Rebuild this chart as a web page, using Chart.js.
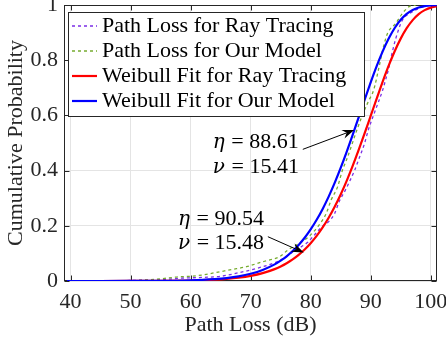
<!DOCTYPE html>
<html>
<head>
<meta charset="utf-8">
<script src="https://cdn.jsdelivr.net/npm/chart.js@4/dist/chart.umd.min.js"></script>
<style>
  html, body { margin: 0; padding: 0; background: #ffffff; }
  #cdf { display: block; }
</style>
</head>
<body>
<canvas id="cdf" width="446" height="345"></canvas>
<script>
// Fitted Weibull parameters (scale eta, shape nu)
const ourModelEta = 88.61, ourModelNu = 15.41;
const rayTracingEta = 90.54, rayTracingNu = 15.48;

// Empirical CDF of path loss from ray tracing
const rayTracingLossDb = [39.4, 48, 52, 56, 58, 62, 65, 68, 70, 72, 74, 75.9, 77, 78.5, 79.5, 80.4, 81.9, 83.0, 84.0, 84.8, 85.8, 86.6, 87.3, 88.0, 89.0, 89.6, 90.8, 92.0, 92.5, 93.0, 93.5, 94.2, 95.3, 96.4, 97.5, 98.5, 99.7, 101];
const rayTracingCdf    = [0, 0.001, 0.003, 0.006, 0.010, 0.013, 0.017, 0.030, 0.040, 0.052, 0.066, 0.088, 0.105, 0.125, 0.140, 0.161, 0.197, 0.215, 0.245, 0.290, 0.330, 0.366, 0.400, 0.440, 0.500, 0.547, 0.620, 0.692, 0.730, 0.770, 0.820, 0.880, 0.946, 0.968, 0.982, 0.992, 0.998, 1.0];

// Empirical CDF of path loss from our model
const ourModelLossDb = [39.4, 50, 52, 55, 58, 60, 62, 65, 67, 69.3, 72, 74.8, 76.2, 78.1, 79.7, 81.2, 82.6, 83.4, 84.5, 85.3, 86.0, 87.7, 88.6, 89.6, 90.5, 91.4, 92.0, 92.8, 94.2, 95.3, 96.4, 97.5];
const ourModelCdf    = [0, 0.001, 0.003, 0.008, 0.015, 0.017, 0.022, 0.034, 0.042, 0.052, 0.070, 0.088, 0.112, 0.137, 0.161, 0.197, 0.245, 0.293, 0.342, 0.402, 0.440, 0.547, 0.600, 0.650, 0.692, 0.776, 0.837, 0.897, 0.934, 0.970, 0.994, 1.0];

// Weibull fit CDFs on a common path-loss grid
const fitLossDb = [39.4, 45, 50, 55, 60, 62, 64, 66, 68, 70, 72, 74, 75, 76, 77, 78, 79, 80, 81, 82, 83, 84, 85, 86, 87, 88, 89, 90, 91, 92, 93, 94, 95, 96, 97, 98, 99, 100, 101];
const rayTracingFitCdf = [0, 0.00002, 0.0001, 0.00045, 0.00171, 0.00284, 0.00464, 0.00746, 0.01183, 0.01846, 0.0284, 0.0431, 0.0528, 0.0644, 0.0782, 0.0947, 0.1141, 0.1369, 0.1634, 0.1941, 0.2292, 0.2690, 0.3136, 0.3630, 0.4169, 0.4747, 0.5355, 0.5981, 0.6610, 0.7222, 0.7801, 0.8325, 0.8782, 0.9159, 0.9453, 0.9668, 0.9814, 0.9905, 0.9956];
const ourModelFitCdf   = [0, 0.00003, 0.00015, 0.00064, 0.00246, 0.00406, 0.00662, 0.01062, 0.01677, 0.0261, 0.0400, 0.0603, 0.0737, 0.0896, 0.1085, 0.1307, 0.1568, 0.1870, 0.2217, 0.2613, 0.3058, 0.3553, 0.4095, 0.4678, 0.5295, 0.5930, 0.6570, 0.7195, 0.7784, 0.8319, 0.8784, 0.9166, 0.9463, 0.9678, 0.9822, 0.9911, 0.9960, 0.9984, 0.9995];

// Axis ticks
const xTicks = [40, 50, 60, 70, 80, 90, 100];
const xTickLabels = ['40', '50', '60', '70', '80', '90', '100'];
const yTicks = [0, 0.2, 0.4, 0.6, 0.8, 1];
const yTickLabels = ['0', '0.2', '0.4', '0.6', '0.8', '1'];

const seriesNames = [
  'Path Loss for Ray Tracing',
  'Path Loss for Our Model',
  'Weibull Fit for Ray Tracing',
  'Weibull Fit for Our Model'
];

const FONT = '"Liberation Serif", "Times New Roman", serif';
const GREEK_FONT = 'italic 20px "DejaVu Serif", serif';
const FONT_SIZE = 22;
const INK = '#262626';

function toPoints(xs, ys) {
  return xs.map((x, i) => ({ x: x, y: ys[i] }));
}

// Fixed axis bands: no extra room reserved for overhanging tick labels
function fixBand(size) {
  return function (s) {
    if (s.isHorizontal()) s.height = size; else s.width = size;
    s.paddingLeft = 0; s.paddingRight = 0; s.paddingTop = 0; s.paddingBottom = 0;
  };
}

// Full axes box with inward tick marks on all four sides
const axesBox = {
  id: 'axesBox',
  beforeDatasetsDraw(chart) {
    const { ctx, chartArea: a, scales: { x, y } } = chart;
    const L = Math.round(a.left) + 0.5, R = Math.round(a.right) - 0.5;
    const T = Math.round(a.top) + 0.5, B = Math.round(a.bottom) - 0.5;
    const tick = 5;
    ctx.save();
    ctx.strokeStyle = INK;
    ctx.lineWidth = 1;
    ctx.beginPath();
    xTicks.forEach(v => {
      const px = Math.round(x.getPixelForValue(v)) + 0.5;
      ctx.moveTo(px, B); ctx.lineTo(px, B - tick);
      ctx.moveTo(px, T); ctx.lineTo(px, T + tick);
    });
    yTicks.forEach(v => {
      const py = Math.round(y.getPixelForValue(v)) + 0.5;
      ctx.moveTo(L, py); ctx.lineTo(L + tick, py);
      ctx.moveTo(R, py); ctx.lineTo(R - tick, py);
    });
    ctx.stroke();
    ctx.strokeRect(L, T, R - L, B - T);
    ctx.restore();
  }
};

function drawArrow(ctx, x0, y0, x1, y1) {
  const ang = Math.atan2(y1 - y0, x1 - x0);
  const len = 12, half = 4.5, back = 8;
  ctx.save();
  ctx.strokeStyle = '#000';
  ctx.fillStyle = '#000';
  ctx.lineWidth = 1;
  ctx.beginPath();
  ctx.moveTo(x0, y0);
  ctx.lineTo(x1 - Math.cos(ang) * back, y1 - Math.sin(ang) * back);
  ctx.stroke();
  ctx.translate(x1, y1);
  ctx.rotate(ang);
  ctx.beginPath();
  ctx.moveTo(0, 0);
  ctx.lineTo(-len, -half);
  ctx.lineTo(-back, 0);
  ctx.lineTo(-len, half);
  ctx.closePath();
  ctx.fill();
  ctx.restore();
}

function drawMathLine(ctx, x, y, sym, value) {
  ctx.font = GREEK_FONT;
  ctx.fillText(sym, x, y);
  const w = ctx.measureText(sym).width;
  ctx.font = FONT_SIZE + 'px ' + FONT;
  ctx.fillText(' = ' + value, x + w + 1, y);
}

// Parameter call-outs pointing at each fitted curve
const fitNotes = {
  id: 'fitNotes',
  afterDatasetsDraw(chart, args, opts) {
    const { ctx, scales: { x, y } } = chart;
    ctx.save();
    ctx.fillStyle = '#000';
    ctx.textBaseline = 'alphabetic';
    ctx.textAlign = 'left';
    opts.notes.forEach(n => {
      const tx = x.getPixelForValue(n.text[0]);
      drawMathLine(ctx, tx, y.getPixelForValue(n.text[1]), '\u03B7', n.eta.toFixed(2));
      drawMathLine(ctx, tx, y.getPixelForValue(n.text[2]), '\u03BD', n.nu.toFixed(2));
      drawArrow(ctx,
        x.getPixelForValue(n.tail[0]), y.getPixelForValue(n.tail[1]),
        x.getPixelForValue(n.tip[0]), y.getPixelForValue(n.tip[1]));
    });
    ctx.restore();
  }
};

// Boxed legend in the upper-left corner of the plot area
const boxLegend = {
  id: 'boxLegend',
  afterDatasetsDraw(chart) {
    const { ctx, chartArea: a } = chart;
    const left = Math.round(a.left) + 4.5, top = Math.round(a.top) + 7.5;
    const rowH = 25;
    ctx.save();
    ctx.font = FONT_SIZE + 'px ' + FONT;
    let maxW = 0;
    chart.data.datasets.forEach(ds => { maxW = Math.max(maxW, ctx.measureText(ds.label).width); });
    const width = Math.round(34 + maxW + 18);
    const height = rowH * chart.data.datasets.length + 4;
    ctx.fillStyle = '#ffffff';
    ctx.fillRect(left, top, width, height);
    ctx.strokeStyle = INK;
    ctx.lineWidth = 1;
    ctx.strokeRect(left, top, width, height);
    chart.data.datasets.forEach((ds, i) => {
      const cy = top + 13.5 + i * rowH;
      ctx.strokeStyle = ds.borderColor;
      ctx.lineWidth = ds.borderWidth;
      ctx.setLineDash(ds.borderDash || []);
      ctx.beginPath();
      ctx.moveTo(left + 3.5, cy);
      ctx.lineTo(left + 28.5, cy);
      ctx.stroke();
      ctx.setLineDash([]);
      ctx.fillStyle = '#000';
      ctx.textBaseline = 'alphabetic';
      ctx.fillText(ds.label, left + 33.5, cy + 5.5);
    });
    ctx.restore();
  }
};

new Chart(document.getElementById('cdf'), {
  type: 'line',
  data: {
    datasets: [
      {
        label: seriesNames[0],
        data: toPoints(rayTracingLossDb, rayTracingCdf),
        borderColor: '#7b2ee6', borderWidth: 1.3, borderDash: [3, 3],
        cubicInterpolationMode: 'monotone', order: 3
      },
      {
        label: seriesNames[1],
        data: toPoints(ourModelLossDb, ourModelCdf),
        borderColor: '#77ac30', borderWidth: 1.3, borderDash: [3, 3],
        cubicInterpolationMode: 'monotone', order: 2
      },
      {
        label: seriesNames[2],
        data: toPoints(fitLossDb, rayTracingFitCdf),
        borderColor: '#ff0000', borderWidth: 2.2,
        cubicInterpolationMode: 'monotone', order: 1
      },
      {
        label: seriesNames[3],
        data: toPoints(fitLossDb, ourModelFitCdf),
        borderColor: '#0000ff', borderWidth: 2.2,
        cubicInterpolationMode: 'monotone', order: 0
      }
    ]
  },
  options: {
    responsive: false,
    animation: false,
    devicePixelRatio: 1,
    layout: { padding: { left: 0, right: 9, top: 5, bottom: 0 } },
    elements: { point: { radius: 0 } },
    plugins: {
      legend: { display: false },
      tooltip: { enabled: false },
      fitNotes: {
        notes: [
          { eta: ourModelEta, nu: ourModelNu, text: [63.7, 0.482, 0.391], tail: [78.69, 0.477], tip: [87.25, 0.547] },
          { eta: rayTracingEta, nu: rayTracingNu, text: [57.9, 0.203, 0.116], tail: [72.87, 0.1605], tip: [78.85, 0.103] }
        ]
      }
    },
    scales: {
      x: {
        type: 'linear',
        min: 38.9, max: 101.05,
        afterFit: fixBand(64),
        afterBuildTicks(s) { s.ticks = xTicks.map(v => ({ value: v })); },
        grid: { color: '#e4e4e4', lineWidth: 1, drawTicks: false },
        border: { display: false },
        ticks: {
          padding: 8,
          color: INK,
          font: { family: FONT, size: FONT_SIZE },
          maxRotation: 0,
          callback: (v, i) => xTickLabels[i]
        },
        title: {
          display: true,
          text: 'Path Loss (dB)',
          color: INK,
          font: { family: FONT, size: FONT_SIZE },
          padding: { top: 0, bottom: 7 }
        }
      },
      y: {
        type: 'linear',
        min: 0, max: 1,
        afterFit: fixBand(64),
        afterBuildTicks(s) { s.ticks = yTicks.map(v => ({ value: v })); },
        grid: { color: '#e4e4e4', lineWidth: 1, drawTicks: false },
        border: { display: false },
        ticks: {
          padding: 6,
          color: INK,
          font: { family: FONT, size: FONT_SIZE },
          callback: (v, i) => yTickLabels[i]
        },
        title: {
          display: true,
          text: 'Cumulative Probability',
          color: INK,
          font: { family: FONT, size: FONT_SIZE },
          padding: { top: 3, bottom: 0 }
        }
      }
    }
  },
  plugins: [axesBox, boxLegend, fitNotes]
});
</script>
</body>
</html>
